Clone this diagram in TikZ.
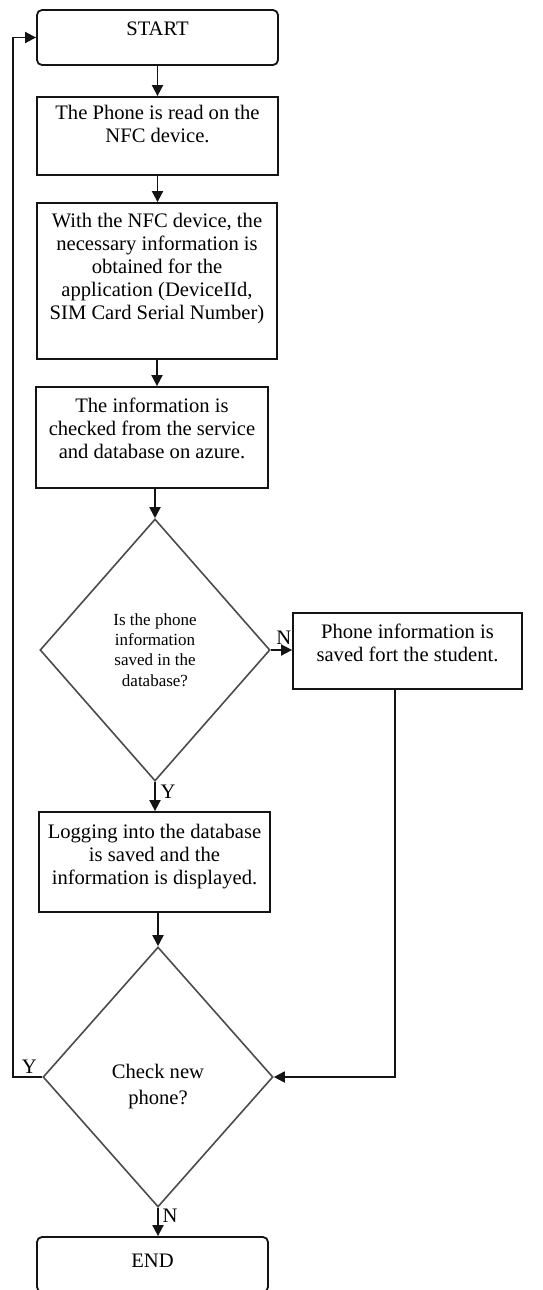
\documentclass[tikz,border=0pt]{standalone}
\usepackage{fontspec}
\setmainfont{Liberation Serif}
\definecolor{ink}{RGB}{20, 20, 20}
\definecolor{rim}{RGB}{75, 75, 75}
\usepackage{tikz}
\usepackage{xcolor}
\usetikzlibrary{shapes.geometric,arrows.meta,calc}
\newcommand{\boxtext}[4][12.5pt]{\parbox[c][#3][t]{#2}{\centering\rule{0pt}{#1}#4}}
\tikzset{
  flowbox/.style={draw=ink, line width=0.9pt, inner sep=0pt, font=\fontsize{10.3}{11.6}\selectfont},
  termbox/.style={flowbox, rounded corners=2.5pt},
  decision/.style={diamond, draw=rim, line width=0.8pt, inner sep=0pt, align=center},
  flowarrow/.style={draw=ink, line width=0.9pt, -{Triangle[length=5.5pt,width=5.5pt]}},
  answer/.style={font=\fontsize{10.3}{11.6}\selectfont, inner sep=0pt}
}

\begin{document}
\begin{tikzpicture}[x=0.5pt, y=-0.5pt]
    \useasboundingbox (0,0) rectangle (542,1290);
    \clip (0,0) rectangle (542,1290);

    \node[termbox] (start) at (157.5,37.5) {\boxtext{120.5pt}{27.5pt}{START}};
    \node[flowbox] (read) at (157.5,136) {\boxtext[11pt]{120.5pt}{39pt}{The Phone is read on the\\NFC device.}};
    \node[flowbox] (obtain) at (157,281) {\boxtext[12pt]{120pt}{78pt}{With the NFC device, the\\necessary information is\\obtained for the\\application (DeviceIId,\\SIM Card Serial Number)}};
    \node[flowbox] (check) at (152,437.5) {\boxtext{116pt}{50.5pt}{The information is\\checked from the service\\and database on azure.}};
    \node[decision, minimum width=115pt, minimum height=131pt, font=\fontsize{8.5}{10.2}\selectfont] (saved) at (155,650) {Is the phone\\information\\saved in the\\database?};
    \node[flowbox] (store) at (407.5,651) {\boxtext{114.5pt}{38pt}{Phone information is\\saved fort the student.}};
    \node[flowbox] (logging) at (154.5,862) {\boxtext[13pt]{115.5pt}{50pt}{Logging into the database\\is saved and the\\information is displayed.}};
    \node[decision, minimum width=115pt, minimum height=130pt, font=\fontsize{10.3}{13}\selectfont] (again) at (158,1077) {\rule{0pt}{17pt}Check new\\phone?};
    \node[termbox] (finish) at (152.5,1264.5) {\boxtext[15pt]{115.5pt}{27.5pt}{END}};

    \draw[flowarrow] (start) -- (read);
    \draw[flowarrow] (read.south) -- (read.south |- obtain.north);
    \draw[flowarrow] (obtain.south) -- (obtain.south |- check.north);
    \draw[flowarrow] (check.south -| saved.north) -- (saved.north);
    \draw[flowarrow] (saved.east) -- (saved.east -| store.west);
    \draw[flowarrow] (saved.south) -- (saved.south |- logging.north);
    \draw[flowarrow] (logging.south -| again.north) -- (again.north);
    \draw[flowarrow] (again.south) -- (again.south |- finish.north);
    \draw[flowarrow] ([xshift=-6.25pt]store.south) |- (again.east);
    \coordinate (loopback) at (13,1077);
    \draw[flowarrow] (again.west) -- (loopback) |- (start.west);

    \node[answer] (savedno) at ([xshift=6.5pt,yshift=6pt]saved.east) {N};
    \node[answer] (savedyes) at ([xshift=6.5pt,yshift=-5pt]saved.south) {Y};
    \node[answer] (againyes) at ([xshift=-6.5pt,yshift=5pt]again.west) {Y};
    \node[answer] (againno) at ([xshift=6pt,yshift=-4pt]again.south) {N};
\end{tikzpicture}
\end{document}
